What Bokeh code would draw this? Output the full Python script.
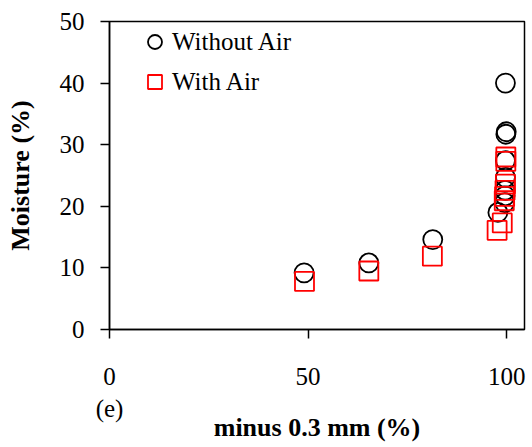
from bokeh.plotting import figure
from bokeh.models import Range1d, FixedTicker, Legend, LegendItem
from bokeh.embed import file_html
from bokeh.resources import INLINE

# Data
without_air_x = [49, 65.3, 81.4, 97.8, 99.5, 99.6, 99.6, 99.7, 99.7, 99.8, 99.9, 99.7]
without_air_y = [9.2, 10.8, 14.6, 19.0, 20.6, 21.7, 22.6, 24.7, 27.4, 31.7, 32.1, 40.0]

with_air_x = [49.1, 65.3, 81.3, 97.6, 98.9, 99.4, 99.5, 99.6, 99.7, 99.8, 99.8]
with_air_y = [7.8, 9.5, 11.9, 16.1, 17.3, 20.9, 21.6, 22.6, 23.6, 27.3, 28.0]

x_ticks = [0, 50, 100]
y_ticks = [0, 10, 20, 30, 40, 50]
x_tick_labels = {0: "0\n(e)", 50: "50", 100: "100"}

FONT = "Liberation Serif"

p = figure(frame_width=415, frame_height=308,
           min_border_left=109, min_border_top=21, min_border_right=2, min_border_bottom=105,
           x_range=Range1d(0, 104.5), y_range=Range1d(0, 50),
           output_backend="svg", toolbar_location=None)

p.xgrid.visible = False
p.ygrid.visible = False
p.outline_line_color = "black"
p.outline_line_width = 1.5
p.background_fill_color = "white"
p.border_fill_color = "white"

for ax in (p.xaxis[0], p.yaxis[0]):
    ax.axis_line_color = "black"
    ax.axis_line_width = 1.5
    ax.major_tick_line_color = "black"
    ax.major_tick_line_width = 1.5
    ax.major_tick_out = 9
    ax.major_tick_in = 0
    ax.minor_tick_line_color = None
    ax.major_label_text_font = FONT
    ax.major_label_text_font_size = "25px"
    ax.major_label_text_color = "black"
    ax.axis_label_text_font = FONT
    ax.axis_label_text_font_size = "26px"
    ax.axis_label_text_font_style = "bold"
    ax.axis_label_text_color = "black"

p.xaxis[0].ticker = FixedTicker(ticks=x_ticks)
p.xaxis[0].major_label_overrides = x_tick_labels
p.yaxis[0].ticker = FixedTicker(ticks=y_ticks)
p.xaxis[0].axis_label = "minus 0.3 mm (%)"
p.yaxis[0].axis_label = "Moisture (%)"
p.xaxis[0].major_label_standoff = 24
p.xaxis[0].axis_label_standoff = -12
p.yaxis[0].major_label_standoff = 16
p.yaxis[0].axis_label_standoff = 22

r1 = p.scatter(without_air_x, without_air_y, marker="circle", size=19,
               fill_color=None, line_color="black", line_width=1.8)
r2 = p.scatter(with_air_x, with_air_y, marker="square", size=19,
               fill_color=None, line_color="#ff0000", line_width=1.8)

legend = Legend(items=[LegendItem(label="Without Air", renderers=[r1]),
                       LegendItem(label="With Air", renderers=[r2])],
                location=(28, 230), padding=0, margin=0, spacing=5,
                glyph_width=35, glyph_height=35, label_standoff=0,
                label_text_font=FONT, label_text_font_size="25px",
                label_text_color="black",
                border_line_color=None, background_fill_alpha=0)
p.add_layout(legend)

open("out.html", "w").write(file_html(p, INLINE))
